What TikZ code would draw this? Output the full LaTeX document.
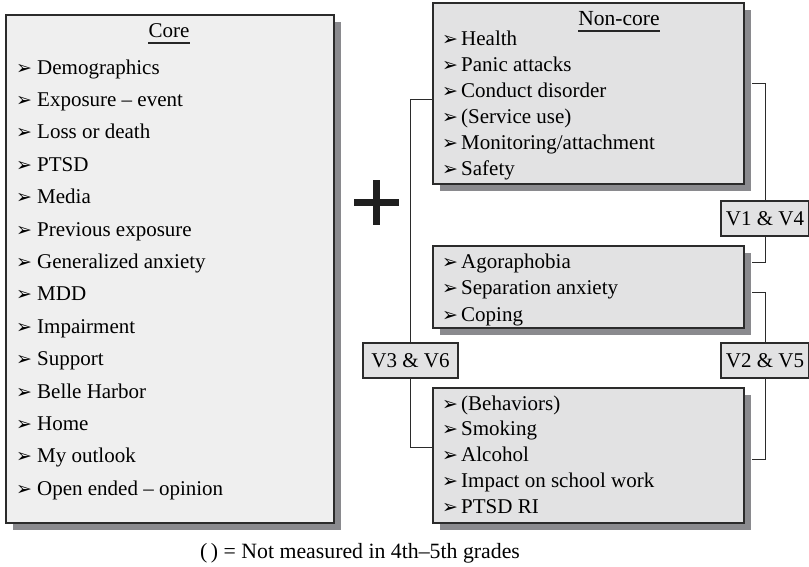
\documentclass[tikz,border=0pt]{standalone}
\usepackage{fontspec}
\setmainfont{Liberation Serif}
\newfontfamily\dvfont{DejaVu Sans}
\usetikzlibrary{shadows}

\definecolor{boxline}{HTML}{2B2B2B}
\definecolor{corefill}{HTML}{EFEFEF}
\definecolor{sidefill}{HTML}{E2E2E3}
\definecolor{shadowgray}{HTML}{8A8A8E}

% arrowhead bullet followed by a fixed gap
\newcommand{\itembul}[1]{\makebox[#1][l]{\dvfont\fontsize{19}{19}\selectfont ➢}}

\tikzset{
  panel/.style={draw=boxline, line width=1.2pt, rectangle, inner sep=0pt,
    drop shadow={shadow xshift=7pt, shadow yshift=-7pt, fill=shadowgray, opacity=1}},
  corepanel/.style={panel, fill=corefill},
  sidepanel/.style={panel, fill=sidefill},
  vlabel/.style={draw=boxline, line width=1.2pt, fill=sidefill, rectangle,
    inner sep=0pt, minimum height=35pt, font=\fontsize{21}{21}\selectfont},
  itemtext/.style={anchor=base west, inner sep=0pt, font=\fontsize{21}{21}\selectfont},
  titletext/.style={anchor=base, inner sep=0pt, font=\fontsize{21}{21}\selectfont},
  link/.style={draw=boxline, line width=0.9pt},
  underbar/.style={line width=2pt, draw=black!85},
}

\begin{document}
\begin{tikzpicture}[x=1pt, y=-1pt]
\useasboundingbox (0,0) rectangle (809,566);

% panels
\node[corepanel, minimum width=328pt, minimum height=508pt] (core) at (170,269) {};
\node[sidepanel, minimum width=311pt, minimum height=181pt] (top) at (588.5,93.5) {};
\node[sidepanel, minimum width=311pt, minimum height=82pt] (mid) at (588.5,287) {};
\node[sidepanel, minimum width=311pt, minimum height=135pt] (bot) at (588.5,455.5) {};

% titles
\node[titletext] (coretitle) at (169,37) {Core};
\draw[underbar] ([yshift=-6pt]coretitle.base west) -- ([yshift=-6pt]coretitle.base east);
\node[titletext, font=\fontsize{21.5}{21.5}\selectfont] (sidetitle) at (619,25) {Non-core};
\draw[underbar] ([yshift=-6pt]sidetitle.base west) -- ([yshift=-6pt]sidetitle.base east);

% core list
\foreach \t [count=\i] in {Demographics, Exposure – event, Loss or death, PTSD, Media,
  Previous exposure, Generalized anxiety, MDD, Impairment, Support, Belle Harbor,
  Home, My outlook, Open ended – opinion}
  \node[itemtext] (c\i) at (16,{74+32.4*(\i-1)}) {\itembul{21pt}\t};

% non-core lists
\foreach \t [count=\i] in {Health, Panic attacks, Conduct disorder, (Service use),
  Monitoring/attachment, Safety}
  \node[itemtext] (n\i) at (442,{45+26*(\i-1)}) {\itembul{19pt}\t};
\foreach \t [count=\i] in {Agoraphobia, Separation anxiety, Coping}
  \node[itemtext] (m\i) at (442,{268+26.5*(\i-1)}) {\itembul{19pt}\t};
\foreach \t [count=\i] in {(Behaviors), Smoking, Alcohol, Impact on school work, PTSD RI}
  \node[itemtext] (b\i) at (442,{410+25.8*(\i-1)}) {\itembul{19pt}\t};

% wave labels
\node[vlabel, minimum width=88pt] (v14) at (765,218.5) {V1 \& V4};
\node[vlabel, minimum width=88pt] (v25) at (765,360.5) {V2 \& V5};
\node[vlabel, minimum width=95pt] (v36) at (410.5,360.5) {V3 \& V6};

% connectors
\draw[link] (v14.north) |- ([xshift=7pt,yshift=10.5pt]top.east);
\draw[link] (v14.south) |- ([xshift=7pt,yshift=25pt]mid.east);
\draw[link] (v25.north) |- ([xshift=7pt,yshift=-5pt]mid.east);
\draw[link] (v25.south) |- ([xshift=7pt,yshift=-3.5pt]bot.east);
\draw[link] (v36.north) |- ([yshift=-5.5pt]top.west);
\draw[link] (v36.south) |- ([yshift=8.5pt]bot.west);

% plus sign
\draw[line width=7pt, black!88] (354,202.5) -- (399,202.5);
\draw[line width=7pt, black!88] (376.5,180) -- (376.5,225);

% footnote
\node[titletext, font=\fontsize{21.8}{21.8}\selectfont] (note) at (360,558) {(\,)~= Not measured in 4th–5th grades};
\end{tikzpicture}
\end{document}
